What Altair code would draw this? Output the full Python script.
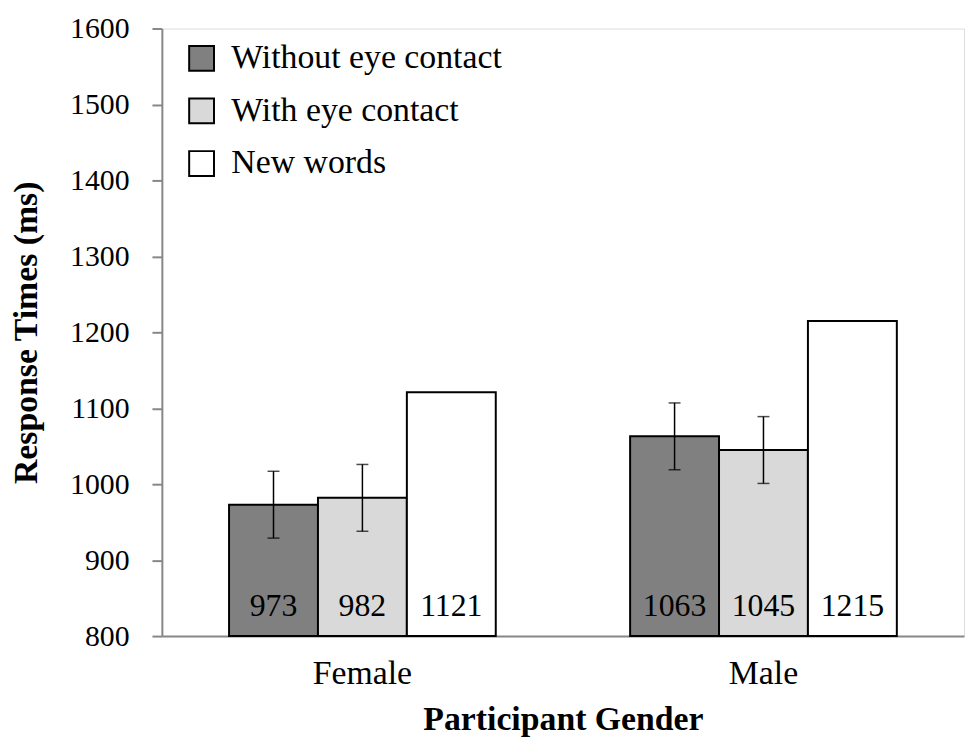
import altair as alt
import pandas as pd

genders = ["Female", "Male"]
series = ["Without eye contact", "With eye contact", "New words"]
without_eye = [973, 1063]
with_eye = [982, 1045]
new_words = [1121, 1215]
without_err = [44, 44]
with_err = [44, 44]
colors = ["#808080", "#d9d9d9", "#ffffff"]
y_ticks = [800, 900, 1000, 1100, 1200, 1300, 1400, 1500, 1600]

rows = []
for s, vals in zip(series, [without_eye, with_eye, new_words]):
    for g, v in zip(genders, vals):
        rows.append({"gender": g, "series": s, "value": v})
df = pd.DataFrame(rows)

erows = []
for s, vals, errs in zip(series[:2], [without_eye, with_eye], [without_err, with_err]):
    for g, v, e in zip(genders, vals, errs):
        erows.append({"gender": g, "series": s, "lo": v - e, "hi": v + e})
edf = pd.DataFrame(erows)

W, H = 808, 612
FONT = "Liberation Serif"

x = alt.X(
    "gender:N", sort=genders,
    scale=alt.Scale(paddingInner=0.335, paddingOuter=0.1675),
    axis=alt.Axis(
        title="Participant Gender", labelAngle=0, ticks=False, labelPadding=48,
        labelBaseline="alphabetic", labelFontSize=34, labelFont=FONT, labelColor="black",
        titleFont=FONT, titleFontSize=34, titleFontWeight="bold", titleColor="black",
        titleY=94, titleBaseline="alphabetic",
        domainColor="#878787", domainWidth=2,
    ),
)
xo = alt.XOffset("series:N", sort=series, scale=alt.Scale(paddingInner=0, paddingOuter=0))
yscale = alt.Scale(domain=[800, 1600], nice=False, zero=False)
yaxis = alt.Axis(
    values=y_ticks, format="d", title="Response Times (ms)", grid=False,
    tickSize=10, tickColor="#878787", tickWidth=2, labelPadding=23,
    labelFontSize=30, labelFont=FONT, labelColor="black",
    domainColor="#878787", domainWidth=2,
    titleFont=FONT, titleFontSize=34, titleFontWeight="bold", titleColor="black",
    titleX=-136, titleY=H / 2, titleAngle=270, titleAlign="center", titleBaseline="middle",
)

bars = alt.Chart(df).mark_bar(stroke="black", strokeWidth=2).encode(
    x=x, xOffset=xo,
    y=alt.Y("value:Q", scale=yscale, axis=yaxis),
    y2=alt.datum(800),
    fill=alt.Fill(
        "series:N", sort=series,
        scale=alt.Scale(domain=series, range=colors),
        legend=alt.Legend(
            title=None, orient="none", legendX=23, legendY=13, padding=0,
            symbolType="square", symbolSize=625, symbolStrokeColor="black",
            symbolStrokeWidth=2, symbolOpacity=1, labelFontSize=34, labelFont=FONT,
            labelColor="black", labelOffset=13, rowPadding=19, labelLimit=0,
        ),
    ),
)

err_rule = alt.Chart(edf).mark_rule(color="black", strokeWidth=1.5).encode(
    x=x, xOffset=xo, y=alt.Y("lo:Q", scale=yscale), y2="hi:Q"
)
cap_lo = alt.Chart(edf).mark_tick(color="black", thickness=1.5, size=12).encode(
    x=x, xOffset=xo, y=alt.Y("lo:Q", scale=yscale)
)
cap_hi = alt.Chart(edf).mark_tick(color="black", thickness=1.5, size=12).encode(
    x=x, xOffset=xo, y=alt.Y("hi:Q", scale=yscale)
)
labels = alt.Chart(df).mark_text(
    dy=-20, baseline="alphabetic", align="center", fontSize=32, font=FONT, color="black"
).encode(
    x=x, xOffset=xo, y=alt.datum(800), text=alt.Text("value:Q", format="d")
)

chart = alt.layer(bars, err_rule, cap_lo, cap_hi, labels).properties(
    width=W, height=H,
    padding={"left": 155, "top": 18, "right": 1, "bottom": 102},
    autosize=alt.AutoSizeParams(type="none"),
).configure_view(
    stroke="black", strokeWidth=2
).configure(font=FONT)

chart.save("out.html", embed_options={"renderer": "svg", "actions": False})
